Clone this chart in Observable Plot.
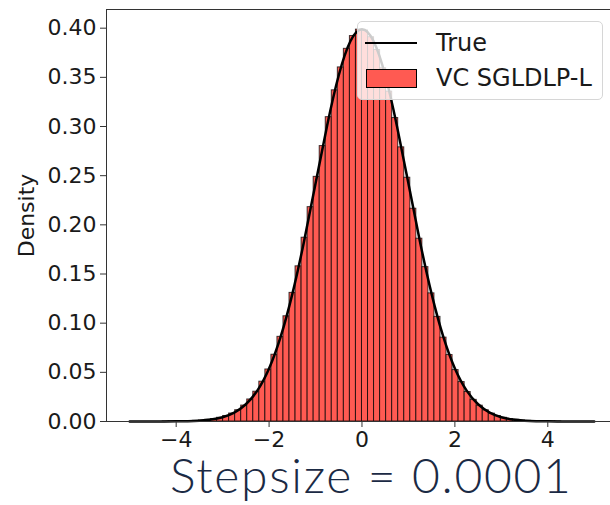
<!DOCTYPE html>
<html>
<head>
<meta charset="utf-8">
<script src="https://cdn.jsdelivr.net/npm/d3@7"></script>
<script src="https://cdn.jsdelivr.net/npm/@observablehq/plot@0.6"></script>
<style>
  body { margin: 0; background: #fff; }
  #wrap { position: relative; width: 610px; height: 505px; overflow: hidden; }
  #legend {
    position: absolute; left: 357px; top: 21px; width: 244px; height: 77px;
    border: 1px solid #d6d6d6; border-radius: 5px; background: rgba(255,255,255,0.8);
    font-family: "DejaVu Sans", sans-serif; font-size: 24px; color: #1a1a1a;
  }
  #legend .row { position: absolute; left: 0; display: flex; align-items: center; }
  #title {
    position: absolute; left: 170px; top: 457px; white-space: nowrap;
    font-family: "Lato", sans-serif; font-weight: 300; font-size: 48px; line-height: 36px;
    letter-spacing: 1.7px; color: #1b2a44;
  }
</style>
</head>
<body>
<div id="wrap">
  <div id="chart"></div>
  <div id="legend"></div>
  <div id="title"></div>
</div>
<script>
// ---- data ----
const binStart = -4.29;
const binWidth = 0.13;
const densities = [
  0.00004, 0.00010, 0.00016, 0.00027, 0.00043, 0.00069, 0.00108, 0.00161, 0.00254, 0.00379,
  0.00561, 0.00812, 0.01148, 0.01620, 0.02240, 0.03030, 0.04050, 0.05290, 0.06790, 0.08610,
  0.10700, 0.13080, 0.15780, 0.18690, 0.21800, 0.24880, 0.28010, 0.30950, 0.33680, 0.36010,
  0.37900, 0.39200, 0.39850,
  0.39760, 0.39080, 0.37780, 0.35920, 0.33550, 0.30860, 0.27880, 0.24790, 0.21640, 0.18590,
  0.15700, 0.13030, 0.10640, 0.08530, 0.06760, 0.05230, 0.04010, 0.03000, 0.02200, 0.01610,
  0.01140, 0.00800, 0.00552, 0.00376, 0.00249, 0.00165, 0.00105, 0.00066, 0.00042, 0.00026,
  0.00015, 0.00009, 0.00005
];
const trueX = [
  -5, -4.75, -4.5, -4.25, -4, -3.75, -3.5, -3.25, -3, -2.75, -2.5, -2.25, -2, -1.75, -1.5, -1.25, -1, -0.75, -0.5, -0.25,
  0, 0.25, 0.5, 0.75, 1, 1.25, 1.5, 1.75, 2, 2.25, 2.5, 2.75, 3, 3.25, 3.5, 3.75, 4, 4.25, 4.5, 4.75, 5
];
const trueY = [
  0.0000015, 0.000005, 0.00002, 0.00005, 0.00013, 0.00035, 0.00087, 0.0020, 0.0044, 0.0091, 0.0175, 0.0317, 0.0540, 0.0863, 0.1295, 0.1826, 0.2420, 0.3011, 0.3521, 0.3867,
  0.3989, 0.3867, 0.3521, 0.3011, 0.2420, 0.1826, 0.1295, 0.0863, 0.0540, 0.0317, 0.0175, 0.0091, 0.0044, 0.0020, 0.00087, 0.00035, 0.00013, 0.00005, 0.00002, 0.000005, 0.0000015
];
const xTicks = [-4, -2, 0, 2, 4];
const yTicks = [0, 0.05, 0.10, 0.15, 0.20, 0.25, 0.30, 0.35, 0.40];
const xDomain = [-5.5, 5.35];
const yDomain = [0, 0.419];
const seriesNames = ["True", "VC SGLDLP-L"];
const titleText = "Stepsize = 0.0001";
const yLabel = "Density";

// ---- build tables ----
const bins = densities.map((d, i) => ({x1: binStart + i * binWidth, x2: binStart + (i + 1) * binWidth, y: d}));
const curve = trueX.map((x, i) => ({x, y: trueY[i]}));

const chart = Plot.plot({
  width: 610,
  height: 505,
  marginLeft: 106,
  marginRight: 0,
  marginTop: 9,
  marginBottom: 84,
  style: {fontFamily: "DejaVu Sans, sans-serif", fontSize: "22px", color: "#1a1a1a", background: "#fff"},
  x: {domain: xDomain},
  y: {domain: yDomain},
  marks: [
    Plot.rectY(bins, {x1: "x1", x2: "x2", y: "y", fill: "#ff5a52", stroke: "#000", strokeOpacity: 0.75, strokeWidth: 1}),
    Plot.line(curve, {x: "x", y: "y", stroke: "#000", strokeWidth: 2.5, curve: "natural"}),
    Plot.ruleX([xDomain[0]], {stroke: "#333", strokeWidth: 1}),
    Plot.ruleY([yDomain[0]], {stroke: "#333", strokeWidth: 1}),
    Plot.ruleY([yDomain[1]], {stroke: "#333", strokeWidth: 1}),
    Plot.axisX({ticks: xTicks, tickSize: 6, tickPadding: 4, label: null, stroke: "#333"}),
    Plot.axisY({ticks: yTicks, tickSize: 6, tickPadding: 4, tickFormat: d3.format(".2f"), label: yLabel, labelAnchor: "center", labelArrow: "none", labelOffset: 88, stroke: "#333"})
  ]
});
document.getElementById("chart").appendChild(chart);

// ---- legend ----
const legend = d3.select("#legend");
const r1 = legend.append("div").attr("class", "row").style("top", "8px").style("height", "26px");
r1.append("div").style("margin-left", "7px").style("width", "52px").style("height", "2.5px").style("background", "#000");
r1.append("span").style("margin-left", "19px").text(seriesNames[0]);
const r2 = legend.append("div").attr("class", "row").style("top", "43px").style("height", "26px");
r2.append("div").style("margin-left", "8px").style("width", "49px").style("height", "17px").style("background", "#ff5a52").style("border", "1px solid #000");
r2.append("span").style("margin-left", "19px").text(seriesNames[1]);

document.getElementById("title").textContent = titleText;
</script>
</body>
</html>
